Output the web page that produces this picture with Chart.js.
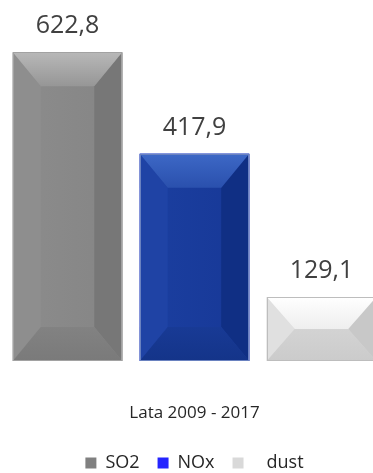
<!DOCTYPE html>
<html>
<head>
<meta charset="utf-8">
<script src="https://cdn.jsdelivr.net/npm/chart.js@4"></script>
<style>
  html, body { margin: 0; padding: 0; background: #fff; overflow: hidden; }
  #chart { display: block; }
</style>
</head>
<body>
<canvas id="chart" width="373" height="473"></canvas>
<script>
// Emissions totals for 2009-2017, one bar per pollutant
const categories = ['Lata 2009 - 2017'];
const seriesNames = ['SO2', 'NOx', '   dust'];
const seriesValues = [[622.8], [417.9], [129.1]];

// Flat colours used in the legend
const legendColors = ['#808080', '#2424ff', '#d9d9d9'];

// Shading for the bevelled bars: face gradient, four facets and outline
const shades = [
    { face: ['#8c8c8c', '#858585'], top: ['#b8b8b8', '#969696'], bottom: ['#7a7a7a', '#828282'],
      left: '#8e8e8e', right: '#777777', border: '#a2a2a2' },
    { face: ['#1b3fa0', '#173897'], top: ['#3d68c6', '#2a50ad'], bottom: ['#143489', '#183a95'],
      left: '#1f43a5', right: '#102f84', border: '#6a82c0' },
    { face: ['#d9d9d9', '#d2d2d2'], top: ['#ffffff', '#eeeeee'], bottom: ['#cbcbcb', '#d3d3d3'],
      left: '#e0e0e0', right: '#c8c8c8', border: '#bdbdbd' }
];

const fontFamily = "'Open Sans', 'DejaVu Sans', sans-serif";

function formatValue(v) {
    return v.toFixed(1).replace('.', ',');
}

function poly(ctx, pts, fill) {
    ctx.beginPath();
    ctx.moveTo(pts[0][0], pts[0][1]);
    for (let k = 1; k < pts.length; k++) ctx.lineTo(pts[k][0], pts[k][1]);
    ctx.closePath();
    ctx.fillStyle = fill;
    ctx.fill();
}

// Paints the bevel on top of each bar and writes its value above it
const bevelBars = {
    id: 'bevelBars',
    afterDatasetsDraw(chart) {
        const ctx = chart.ctx;
        chart.data.datasets.forEach((ds, i) => {
            const meta = chart.getDatasetMeta(i);
            const s = shades[i];
            meta.data.forEach((bar, j) => {
                const p = bar.getProps(['x', 'y', 'base', 'width'], true);
                const L = p.x - p.width / 2, R = p.x + p.width / 2;
                const T = Math.min(p.y, p.base), B = Math.max(p.y, p.base);
                const dy = Math.min(34, (B - T) / 2);
                const dx = Math.min(28, p.width / 2);

                ctx.save();
                let g = ctx.createLinearGradient(L, 0, R, 0);
                g.addColorStop(0, s.face[0]);
                g.addColorStop(1, s.face[1]);
                poly(ctx, [[L, T], [R, T], [R, B], [L, B]], g);

                poly(ctx, [[L, T], [L + dx, T + dy], [L + dx, B - dy], [L, B]], s.left);
                poly(ctx, [[R, T], [R - dx, T + dy], [R - dx, B - dy], [R, B]], s.right);

                g = ctx.createLinearGradient(0, T, 0, T + dy);
                g.addColorStop(0, s.top[0]);
                g.addColorStop(1, s.top[1]);
                poly(ctx, [[L, T], [R, T], [R - dx, T + dy], [L + dx, T + dy]], g);

                g = ctx.createLinearGradient(0, B, 0, B - dy);
                g.addColorStop(0, s.bottom[0]);
                g.addColorStop(1, s.bottom[1]);
                poly(ctx, [[L, B], [R, B], [R - dx, B - dy], [L + dx, B - dy]], g);

                ctx.strokeStyle = s.border;
                ctx.lineWidth = 1;
                ctx.strokeRect(Math.round(L) + 0.5, Math.round(T) + 0.5, Math.round(R - L) - 1, Math.round(B - T) - 1);

                ctx.fillStyle = '#404040';
                ctx.font = '25px ' + fontFamily;
                ctx.textAlign = 'center';
                ctx.textBaseline = 'alphabetic';
                ctx.fillText(formatValue(ds.data[j]), p.x, T - 19);
                ctx.restore();
            });
        });
    }
};

const ctx = document.getElementById('chart').getContext('2d');
const emissionsChart = new Chart(ctx, {
    type: 'bar',
    data: {
        labels: categories,
        datasets: seriesNames.map((name, i) => ({
            label: name,
            data: seriesValues[i],
            backgroundColor: legendColors[i],
            borderWidth: 0,
            clip: false,
            categoryPercentage: 1.067,
            barPercentage: 0.862
        }))
    },
    options: {
        responsive: false,
        animation: false,
        layout: { padding: { top: 14, left: 16, right: 0, bottom: -9 } },
        plugins: {
            tooltip: { enabled: false },
            legend: {
                position: 'bottom',
                labels: {
                    boxWidth: 11,
                    boxHeight: 11,
                    padding: 18,
                    color: '#262626',
                    font: { family: fontFamily, size: 18 }
                }
            }
        },
        scales: {
            x: {
                grid: { display: false, drawTicks: false },
                border: { display: false },
                ticks: { padding: 42, color: '#262626', font: { family: fontFamily, size: 17 } },
                afterFit(scale) { scale.height = 75; }
            },
            y: { display: false, min: 0, max: 700 }
        }
    },
    plugins: [bevelBars]
});
</script>
</body>
</html>
